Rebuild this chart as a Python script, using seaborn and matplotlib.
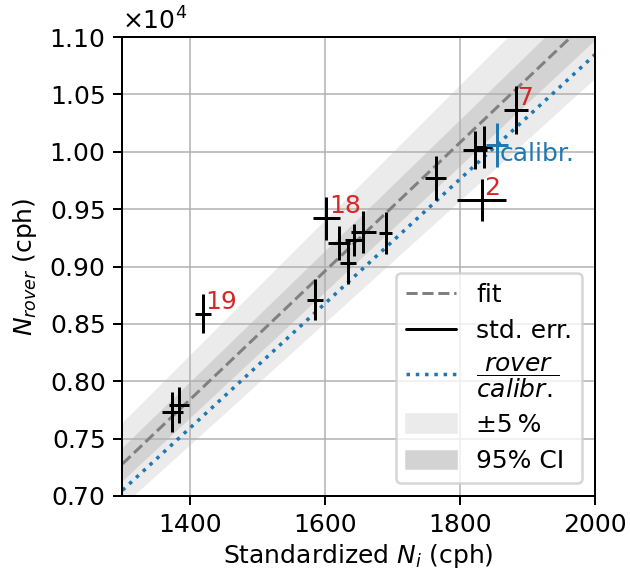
import numpy as np
import pandas as pd
import matplotlib
matplotlib.use("Agg")
import matplotlib.pyplot as plt
import seaborn as sns
from matplotlib.lines import Line2D
from matplotlib.patches import Patch
from matplotlib.ticker import MultipleLocator

# standardized counts (x) vs. rover counts (y), with standard errors
n_std = [1374, 1384, 1419, 1585, 1602, 1621, 1634, 1643, 1657, 1690, 1764, 1832, 1822, 1835, 1883]
n_std_err = [16, 15, 12, 12, 20, 16, 12, 14, 18, 10, 16, 36, 18, 12, 18]
n_rover = [7735, 7794, 8590, 8710, 9420, 9205, 9030, 9230, 9300, 9290, 9770, 9580, 10015, 10040, 10363]
n_rover_err = [174, 160, 173, 180, 190, 145, 184, 140, 180, 185, 189, 185, 166, 181, 210]
site_ids = ["", "", "19", "", "18", "", "", "", "", "", "", "2", "", "", "7"]

# calibration site
calib_x, calib_xerr = 1855, 16
calib_y, calib_yerr = 10060, 190

# fit through origin and bands (relative)
fit_slope = 5.60
ci_rel = 0.02
band_rel = 0.05

sns.set_theme(style="ticks", rc={
    "axes.axisbelow": "line",
    "axes.edgecolor": "black",
    "axes.linewidth": 0.8,
    "text.color": "black",
    "axes.labelcolor": "black",
    "xtick.color": "black",
    "ytick.color": "black",
    "xtick.major.size": 3.5,
    "ytick.major.size": 3.5,
    "xtick.major.width": 0.8,
    "ytick.major.width": 0.8,
    "font.size": 10,
    "axes.labelsize": 10,
    "xtick.labelsize": 10,
    "ytick.labelsize": 10,
    "legend.fontsize": 10,
})
plt.rcParams["font.family"] = ["DejaVu Sans"]

fig = plt.figure(figsize=(3.5, 573 / 180), dpi=180)
ax = fig.add_axes([0.1944, 0.1344, 0.75, 0.801])

x_line = np.array([1300.0, 2000.0])
lines = pd.DataFrame({
    "x": x_line,
    "fit": fit_slope * x_line,
    "calib": calib_y / calib_x * x_line,
})

band_col = "#ebebeb"
ci_col = "#d3d3d3"
ax.fill_between(lines["x"], lines["fit"] * (1 - band_rel), lines["fit"] * (1 + band_rel),
                color=band_col, lw=0, zorder=0.8)
ax.fill_between(lines["x"], lines["fit"] * (1 - ci_rel), lines["fit"] * (1 + ci_rel),
                color=ci_col, lw=0, zorder=0.9)

sns.lineplot(data=lines, x="x", y="fit", color="gray", ls="--", lw=1.2, ax=ax)
sns.lineplot(data=lines, x="x", y="calib", color="tab:blue", ls=":", lw=1.4, ax=ax)

ax.errorbar(n_std, n_rover, xerr=n_std_err, yerr=n_rover_err, fmt="none",
            ecolor="black", elinewidth=1.2, capsize=0, zorder=3)
ax.errorbar([calib_x], [calib_y], xerr=[calib_xerr], yerr=[calib_yerr], fmt="none",
            ecolor="tab:blue", elinewidth=1.2, capsize=0, zorder=3)

for x, y, lab in zip(n_std, n_rover, site_ids):
    if lab:
        ax.annotate(lab, (x, y), xytext=(1, 0), textcoords="offset points",
                    color="tab:red", fontsize=10, ha="left", va="bottom")
ax.annotate("calibr.", (calib_x, calib_y), xytext=(1, 1), textcoords="offset points",
            color="tab:blue", fontsize=10, ha="left", va="top")

ax.set_xlim(1300, 2000)
ax.set_ylim(7000, 11000)
ax.xaxis.set_major_locator(MultipleLocator(200))
ax.yaxis.set_major_locator(MultipleLocator(500))
ax.ticklabel_format(axis="y", style="sci", scilimits=(0, 0), useMathText=True)
ax.grid(True, color="#b0b0b0", lw=0.6)
ax.set_xlabel(r"Standardized $N_i$ (cph)", labelpad=2)
ax.set_ylabel(r"$N_{rover}$ (cph)")

handles = [
    Line2D([], [], color="gray", ls="--", lw=1.2, label="fit"),
    Line2D([], [], color="black", lw=1.2, label="std. err."),
    Line2D([], [], color="tab:blue", ls=":", lw=1.4, label=r"$\dfrac{rover}{calibr.}$"),
    Patch(color=band_col, label="\u00b15\u2009%"),
    Patch(color=ci_col, label="95% CI"),
]
ax.legend(handles=handles, loc="lower right")

fig.savefig("out.png", dpi=180)
